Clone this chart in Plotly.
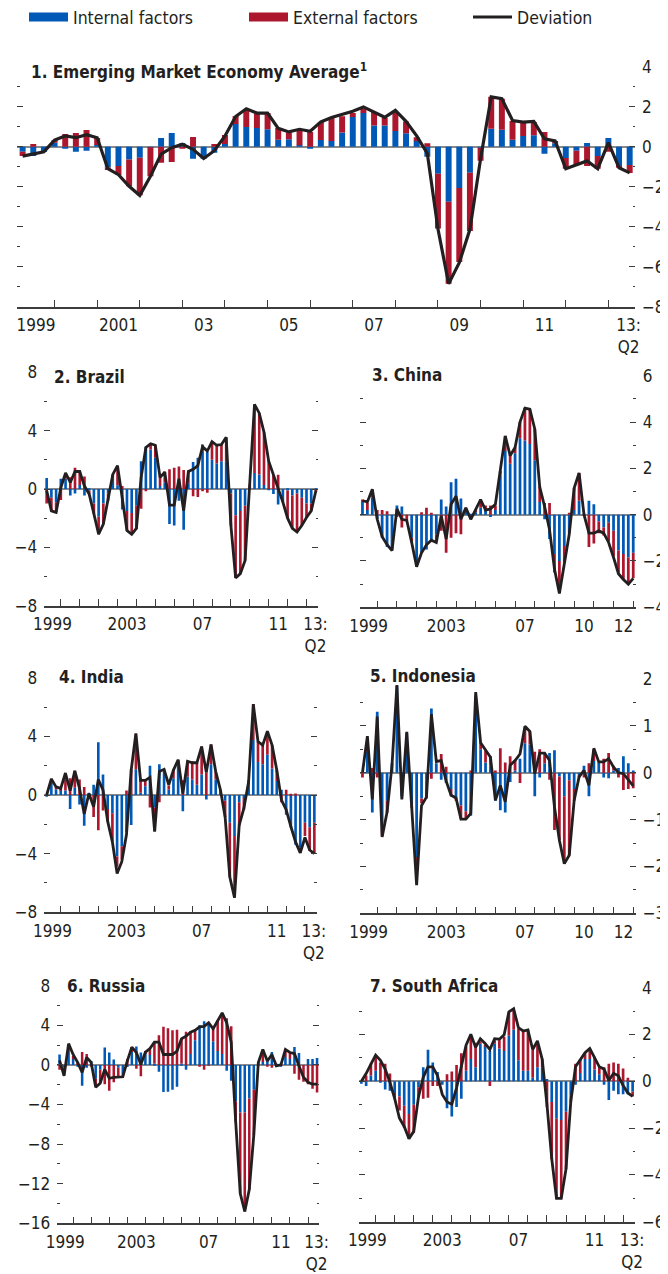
import plotly.graph_objects as go

# The page places the figure 8 px in from the window's top-left corner,
# so the figure is sized and laid out in window pixels minus that offset.
OFF = 8
W, H = 668 - OFF, 1274 - OFF
FONT = "DejaVu Sans Condensed, Liberation Sans Narrow, Arial Narrow, sans-serif"
BLUE = "#0059B7"
RED = "#AD172E"
LINE = "#231F20"
AXIS = "#3C3C3C"

# ---------------- data (quarterly, 1999Q1 onward) ----------------
ema_internal = [-0.25, -0.47, -0.27, 0.2, -0.1, -0.25, -0.2, 0.08, -1.04, -0.97,
                -0.64, -0.55, -0.03, 0.44, 0.69, 0.18, -0.6, -0.6, -0.3, 0.13,
                1.14, 0.99, 0.94, 0.87, 0.35, 0.37, 0.07, -0.08, 0.34, 0.29,
                0.71, 1.48, 1.69, 1.06, 1.06, 0.79, 0.67, 0.29, -0.5, -1.35,
                -2.75, -2.07, -1.3, -0.05, 0.9, 0.85, 0.35, 0.54, 0.57, -0.35,
                0.17, -0.56, -0.2, 0.18, -0.46, 0.44, -0.98, -0.91]
ema_external = [-0.22, 0.13, 0.0, 0.13, 0.64, 0.69, 0.84, 0.35, -0.13, -0.45,
                -1.34, -1.88, -1.45, -0.8, -0.76, -0.1, 0.49, 0.0, 0.13, 0.46,
                0.4, 0.89, 0.71, 0.81, 0.59, 0.34, 0.81, 0.74, 0.9, 1.14,
                0.81, 0.2, 0.22, 0.67, 0.37, 0.94, 0.59, 0.18, 0.17, -2.74,
                -4.1, -3.7, -2.92, -0.65, 1.6, 1.55, 0.94, 0.64, 0.66, 0.74,
                0.12, -0.54, -0.72, -0.96, -0.64, -0.25, -0.07, -0.4]
ema_deviation = [-0.47, -0.38, -0.25, 0.33, 0.54, 0.45, 0.6, 0.45, -1.1, -1.4,
                 -1.98, -2.44, -1.48, -0.37, -0.05, 0.12, -0.13, -0.59, -0.2, 0.54,
                 1.51, 1.9, 1.68, 1.68, 0.92, 0.74, 0.87, 0.77, 1.24, 1.46,
                 1.6, 1.77, 1.99, 1.74, 1.47, 1.82, 1.27, 0.54, -0.34, -4.12,
                 -6.85, -5.8, -4.13, -0.6, 2.49, 2.4, 1.31, 1.23, 1.26, 0.39,
                 0.29, -1.1, -0.9, -0.71, -1.1, 0.2, -1.05, -1.31]

brazil_internal = [0.75, -0.6, -0.9, 0.7, 0.7, -0.45, -0.3, 0.27, -0.45, -0.1,
                   -1.0, -1.9, -1.0, -0.3, 0.7, 0.25, -1.4, -1.5, -1.65, -1.15,
                   1.9, 2.9, 2.7, 2.15, 0.2, 0.45, -2.4, -2.5, -0.8, -2.8,
                   0.4, 1.85, 2.15, 3.05, 2.55, 2.0, 1.75, 1.9, 1.9, -0.3,
                   -1.8, -1.5, -1.15, 0.0, 1.1, 1.0, 0.27, -0.05, -0.35, -1.07,
                   -0.9, -0.1, -0.45, -0.3, -0.6, -1.0, -1.0, -0.05]
brazil_external = [-1.0, -0.9, -0.7, -0.75, 0.4, 0.8, 1.45, 1.0, 0.85, -0.25,
                   -0.7, -1.2, -1.4, -0.5, 0.3, 1.35, 0.2, -1.35, -1.45, -1.6,
                   -1.35, -0.15, 0.4, 0.85, 0.7, 0.75, 1.35, 1.45, 1.55, 1.3,
                   0.85, -0.5, -0.55, -0.15, -0.25, 1.25, 1.2, 1.15, 1.65, -2.2,
                   -4.3, -4.3, -3.75, 0.3, 4.7, 4.2, 3.6, 1.9, 0.95, 0.97,
                   0.0, -1.9, -2.3, -2.65, -1.9, -0.95, -0.5, -0.1]
brazil_deviation = [-0.1, -1.5, -1.6, 0.1, 1.1, 0.45, 1.2, 1.2, 0.2, -0.35,
                    -1.7, -3.1, -2.4, -0.8, 1.0, 1.6, -0.6, -2.85, -3.1, -2.7,
                    0.8, 2.85, 3.1, 3.0, 0.8, 1.15, -1.1, -1.1, 0.7, -1.5,
                    1.2, 1.35, 1.6, 2.9, 2.6, 3.25, 3.0, 3.05, 3.55, -2.5,
                    -6.1, -5.8, -4.9, 0.3, 5.8, 5.2, 3.9, 1.9, 1.0, 0.0,
                    -0.9, -2.0, -2.7, -2.95, -2.5, -1.95, -1.5, -0.1]

china_internal = [0.55, 0.2, 0.75, -0.2, -1.0, -1.4, -1.5, 0.4, 0.35, 0.0,
                  -1.0, -2.2, -1.65, -1.5, -1.15, -0.85, 0.65, 0.35, 1.4, 1.55,
                  0.7, 0.15, -0.05, 0.1, 0.3, 0.2, -0.1, 0.2, 1.85, 2.75,
                  2.2, 2.65, 3.3, 3.2, 3.05, 2.35, 0.55, -0.2, -1.05, -1.7,
                  -2.0, -1.35, -0.8, 0.2, 0.6, 0.0, 0.6, 0.45, -0.3, -0.55,
                  -0.35, -0.7, -1.55, -1.7, -1.85, -1.65]
china_external = [0.1, 0.3, 0.3, 0.2, 0.2, 0.15, 0.0, -0.1, -0.55, -0.25,
                  -0.2, -0.05, 0.1, 0.3, 0.07, -0.3, -0.7, -1.65, -1.0, -0.8,
                  -0.85, 0.15, -0.15, 0.1, 0.35, 0.2, 0.4, 0.2, 0.05, 0.65,
                  0.4, 0.25, 0.7, 1.4, 1.5, 1.35, 0.7, 0.5, 0.5, -0.8,
                  -1.35, -0.7, 0.05, 0.95, 1.2, -0.05, -1.4, -1.25, -0.5, -0.35,
                  -0.8, -1.1, -0.95, -1.1, -1.15, -1.1]
china_deviation = [0.6, 0.55, 1.1, -0.2, -0.95, -1.3, -1.55, 0.25, -0.2, -0.25,
                   -1.2, -2.25, -1.65, -1.3, -1.1, -1.2, -0.05, -1.05, 0.45, 0.8,
                   -0.2, 0.3, -0.2, 0.2, 0.65, 0.2, 0.25, 0.45, 1.9, 3.4,
                   2.55, 2.9, 4.0, 4.6, 4.55, 3.7, 1.2, 0.35, -0.65, -2.35,
                   -3.4, -2.05, -0.85, 1.15, 1.8, 0.0, -0.8, -0.8, -0.7, -0.8,
                   -1.2, -1.85, -2.55, -2.8, -3.0, -2.75]

india_internal = [-0.1, 0.9, 0.4, 0.35, 0.3, -0.95, 0.5, -0.65, -2.1, 0.15,
                  0.7, 3.6, 1.4, -0.95, -1.25, -4.2, -3.5, -2.5, -2.05, 1.75,
                  0.15, 0.6, 2.0, -0.85, 2.1, 1.6, 0.35, 1.15, 2.0, -1.1,
                  1.25, 1.05, 0.7, 1.4, -0.3, 2.1, 1.05, 0.3, -0.4, -1.9,
                  -2.8, -0.5, -0.2, 0.9, 3.75, 2.25, 2.1, 2.75, 1.8, 0.95,
                  0.35, -1.35, -2.2, -3.4, -3.6, -1.9, -2.2, -1.9]
india_external = [0.0, 0.2, 0.15, 0.1, 1.1, 1.15, 1.15, 1.05, 0.55, -0.1,
                  -1.5, -2.4, -1.05, -0.85, -1.9, -0.7, -0.9, 0.3, 1.75, 2.4,
                  1.0, 0.4, -0.85, -1.6, -0.5, 0.15, 0.3, 0.6, 0.4, 1.0,
                  1.05, 1.25, 1.5, 1.9, 1.55, 1.35, 0.55, 0.05, -1.1, -3.7,
                  -4.2, -1.6, -0.8, 0.1, 2.45, 1.4, 1.3, 1.6, 1.6, 0.75,
                  -0.5, 0.35, 0.05, 0.1, -0.35, -0.9, -1.6, -2.1]
india_deviation = [0.0, 1.1, 0.55, 0.45, 1.5, 0.3, 1.65, 0.45, -1.3, 0.1,
                   -0.8, 1.05, 0.35, -1.8, -3.2, -5.35, -4.55, -2.7, 1.7, 4.2,
                   1.0, 1.0, 1.2, -2.5, 1.6, 1.75, 0.7, 1.7, 2.4, 0.1,
                   2.3, 2.2, 2.2, 3.3, 1.55, 3.45, 1.6, 0.35, -1.5, -5.6,
                   -7.0, -2.05, -0.9, 0.9, 6.2, 3.65, 3.4, 4.35, 3.4, 1.7,
                   -0.35, -1.0, -2.15, -3.2, -3.95, -2.9, -3.75, -4.0]

indonesia_internal = [0.0, 0.45, -0.85, 1.3, -1.2, -0.6, 0.2, 1.85, -0.5, 0.85,
                      -0.7, -1.8, -0.55, -0.5, 1.37, 0.2, -0.15, -0.22, -0.35, -0.55,
                      -0.7, -0.82, -0.92, 1.55, 0.5, 0.22, 0.15, -0.6, -0.8, -0.85,
                      -0.2, 0.05, 0.3, 0.63, 0.6, -0.5, -0.1, 0.2, 0.42, 0.48,
                      -0.08, -0.5, -0.16, -0.35, -0.05, 0.15, -0.5, 0.25, 0.22, -0.1,
                      -0.12, 0.05, 0.1, 0.35, 0.2, 0.05]
indonesia_external = [-0.1, 0.3, 0.1, -0.1, -0.15, -0.25, 0.0, 0.0, 0.0, 0.0,
                      -0.05, -0.15, -0.1, -0.05, -0.13, 0.0, 0.4, 0.13, -0.15, -0.05,
                      -0.28, -0.15, 0.05, 0.1, 0.15, 0.25, 0.2, 0.05, 0.52, 0.22,
                      0.35, 0.22, -0.22, 0.3, 0.28, 0.45, 0.5, 0.22, -0.15, -1.22,
                      -1.36, -1.45, -1.6, -0.25, -0.05, -0.1, 0.2, 0.25, 0.0, 0.3,
                      0.42, 0.1, -0.1, -0.37, -0.35, -0.33]
indonesia_deviation = [0.0, 0.78, -0.57, 1.2, -1.37, -0.84, 0.16, 1.87, -0.57, 0.87,
                       -0.73, -2.4, -0.7, -0.52, 1.25, 0.24, 0.26, -0.18, -0.48, -0.54,
                       -0.99, -0.99, -0.87, 1.72, 0.64, 0.48, 0.33, -0.59, -0.27, -0.62,
                       0.16, 0.26, 0.4, 0.99, 0.88, -0.02, 0.42, 0.42, 0.26, -0.73,
                       -1.44, -1.94, -1.76, -0.59, -0.09, 0.05, -0.27, 0.52, 0.23, 0.23,
                       0.3, 0.12, 0.0, -0.02, -0.14, -0.28]

russia_internal = [1.05, -0.3, 1.7, 0.6, -0.1, -2.1, -0.3, 0.4, -1.4, -0.5,
                   1.75, 1.25, 0.55, -0.3, -1.0, -0.2, 1.3, 1.85, 1.25, 1.2,
                   1.0, 0.15, -0.7, -2.75, -2.7, -2.5, -2.2, 0.15, -0.5, 1.1,
                   2.5, 4.0, 4.4, 4.3, 2.4, 1.4, 1.1, -0.6, -1.6, -3.7,
                   -4.8, -4.8, -3.4, -2.5, 0.0, 0.3, 0.4, 1.3, 0.1, -0.1,
                   0.8, 0.6, 1.8, 1.2, 0.0, 0.6, 0.6, 0.7]
russia_external = [-0.5, -0.7, 0.3, 0.3, 0.3, 1.3, 1.1, -0.1, -0.7, -1.3,
                   -1.95, -2.6, -1.75, -0.9, -0.2, 0.6, 0.5, -0.4, -1.15, 0.2,
                   0.7, 2.15, 3.0, 3.85, 3.7, 3.5, 3.55, 2.5, 3.35, 2.3,
                   1.0, -0.15, -0.5, -0.05, 1.25, 3.1, 4.1, 4.7, 3.9, -2.1,
                   -8.2, -10.0, -9.2, -4.6, 0.3, 1.2, -0.1, -0.3, -0.2, 0.1,
                   0.8, 0.7, -0.9, -1.5, -1.7, -1.95, -2.4, -2.8]
russia_deviation = [0.45, -1.1, 2.15, 1.05, 0.25, -0.75, 0.75, 0.25, -2.25, -1.85,
                    -0.45, -1.35, -1.25, -1.2, -1.2, 0.4, 1.8, 1.25, 0.05, 1.3,
                    1.65, 2.3, 2.3, 1.05, 1.05, 1.05, 1.4, 2.65, 2.9, 3.3,
                    3.5, 3.85, 3.9, 4.25, 3.65, 4.5, 5.25, 4.25, 2.3, -5.8,
                    -13.0, -14.8, -12.6, -7.1, 0.25, 1.55, 0.4, 1.05, -0.1, 0.0,
                    1.55, 1.25, 1.15, -0.1, -1.25, -1.75, -1.95, -1.95]

safrica_internal = [-0.1, -0.2, 0.25, 0.45, -0.05, -0.35, -0.4, -0.5, -0.65, -1.05,
                    -1.4, -1.0, -0.25, 0.6, 1.35, 0.8, 0.4, -0.15, -1.15, -1.5,
                    -1.1, -0.75, 0.45, 0.95, 0.6, 1.6, 1.5, 1.3, 1.6, 1.4,
                    1.3, 1.95, 2.2, 0.9, 0.45, 0.45, 0.15, 0.6, 0.6, 0.1,
                    -0.88, -1.6, -1.65, -1.3, -0.6, -0.15, 0.35, 0.95, 0.95, 0.5,
                    0.3, -0.15, -0.8, -0.4, -0.55, -0.55, -0.55, -0.45]
safrica_external = [0.0, 0.25, 0.5, 0.65, 0.8, 0.75, 0.33, -0.2, -0.6, -0.95,
                    -1.05, -1.2, -0.4, -0.75, -0.7, -0.2, -0.2, 0.0, 0.3, 0.42,
                    0.7, 1.2, 1.05, 0.9, 1.05, 0.1, 0.05, -0.2, 0.15, 0.35,
                    0.6, 1.0, 0.9, 1.35, 1.7, 1.75, 1.2, 1.1, 0.35, -1.1,
                    -2.45, -3.4, -3.35, -2.45, -0.3, 0.75, 0.6, 0.25, 0.45, 0.55,
                    0.3, 0.6, 0.75, 0.8, 0.75, 0.55, 0.15, -0.2]
safrica_deviation = [0.0, 0.33, 0.73, 1.12, 0.9, 0.52, -0.04, -0.74, -1.58, -1.93,
                     -2.45, -2.14, -0.67, 0.17, 0.62, 0.62, 0.24, -0.56, -0.88, -0.98,
                     -0.28, 0.64, 1.54, 2.01, 1.45, 1.82, 1.62, 1.36, 1.82, 1.8,
                     1.99, 2.97, 3.1, 2.29, 2.15, 2.2, 1.36, 1.73, 0.94, -1.0,
                     -3.3, -5.0, -5.0, -3.75, -0.88, 0.62, 0.94, 1.22, 1.4, 1.03,
                     0.62, 0.52, 0.03, 0.34, 0.24, -0.18, -0.5, -0.64]

# x tick labels (year labels, centred in each year span; quarter index units)
labels_full = ["1999", "2001", "03", "05", "07", "09", "11", "13:<br>Q2"]
labels_full_pos = [1.25, 9, 17, 25, 33, 41, 49, 56.9]
labels_q2 = ["1999", "2003", "07", "11", "13:<br>Q2"]
labels_q2_pos = [1.25, 17, 33, 49, 56.9]
labels_q4 = ["1999", "2003", "07", "10", "12"]
labels_q4_pos = [1.25, 17, 33, 45, 53]
year_boundaries = [3 + 4 * k for k in range(14)]

panels = [
    dict(title="1. Emerging Market Economy Average<sup>1</sup>",
         internal=ema_internal, external=ema_external, deviation=ema_deviation,
         yr=(-8, 4), dtick=2, side="right", box=(17.3, 635, 66.7, 306.7),
         labels=labels_full, lpos=labels_full_pos, title_xy=(28.5, 71), lw=3.2),
    dict(title="2. Brazil", internal=brazil_internal, external=brazil_external,
         deviation=brazil_deviation, yr=(-8, 8), dtick=4, side="left",
         box=(44.3, 318.3, 372.3, 605.7), labels=labels_q2, lpos=labels_q2_pos,
         title_xy=(51.5, 377), lw=2.8),
    dict(title="3. China", internal=china_internal, external=china_external,
         deviation=china_deviation, yr=(-4, 6), dtick=2, side="right",
         box=(360, 635.7, 375.7, 607.3), labels=labels_q4, lpos=labels_q4_pos,
         title_xy=(370.5, 375), lw=2.8),
    dict(title="4. India", internal=india_internal, external=india_external,
         deviation=india_deviation, yr=(-8, 8), dtick=4, side="left",
         box=(44.3, 316.7, 677.7, 912.3), labels=labels_q2, lpos=labels_q2_pos,
         title_xy=(56.5, 677), lw=2.8),
    dict(title="5. Indonesia", internal=indonesia_internal, external=indonesia_external,
         deviation=indonesia_deviation, yr=(-3, 2), dtick=1, side="right",
         box=(360, 635.7, 679, 913.3), labels=labels_q4, lpos=labels_q4_pos,
         title_xy=(368, 676), lw=2.8),
    dict(title="6. Russia", internal=russia_internal, external=russia_external,
         deviation=russia_deviation, yr=(-16, 8), dtick=4, side="left",
         box=(57.3, 319.3, 985.7, 1223.3), labels=labels_q2, lpos=labels_q2_pos,
         title_xy=(65, 986), lw=2.8),
    dict(title="7. South Africa", internal=safrica_internal, external=safrica_external,
         deviation=safrica_deviation, yr=(-6, 4), dtick=2, side="right",
         box=(359, 635, 987.7, 1221.7), labels=labels_q2, lpos=labels_q2_pos,
         title_xy=(368, 986), lw=2.8),
]

fig = go.Figure()
annotations = []

for i, p in enumerate(panels):
    n = len(p["deviation"])
    xs = list(range(n))
    suffix = "" if i == 0 else str(i + 1)
    xa, ya = "x" + suffix, "y" + suffix
    fig.add_trace(go.Bar(x=xs, y=p["internal"], marker=dict(color=BLUE, line=dict(width=0)),
                         width=0.56, name="Internal factors", legendgroup="int",
                         showlegend=False, xaxis=xa, yaxis=ya))
    fig.add_trace(go.Bar(x=xs, y=p["external"], marker=dict(color=RED, line=dict(width=0)),
                         width=0.56, name="External factors", legendgroup="ext",
                         showlegend=False, xaxis=xa, yaxis=ya))
    fig.add_trace(go.Scatter(x=xs, y=p["deviation"], mode="lines",
                             line=dict(color=LINE, width=p["lw"]),
                             name="Deviation", legendgroup="dev",
                             showlegend=False, xaxis=xa, yaxis=ya))

    x0, x1, y0, y1 = [v - OFF for v in p["box"]]
    xdom = [x0 / W, x1 / W]
    ydom = [1 - y1 / H, 1 - y0 / H]
    lo, hi = p["yr"]
    fig.layout["xaxis" + suffix] = dict(
        domain=xdom, anchor=ya, range=[-0.5, n - 0.5], automargin=False,
        tickvals=p["lpos"], ticktext=p["labels"], ticks="",
        showgrid=False, zeroline=False, showline=True, linecolor=AXIS, linewidth=1.6,
        tickfont=dict(family=FONT, size=17, color=LINE), ticklabelstandoff=2,
        minor=dict(tickvals=year_boundaries, ticks="inside", ticklen=7,
                   tickwidth=1.3, tickcolor=AXIS, showgrid=False),
        fixedrange=True,
    )
    fig.layout["yaxis" + suffix] = dict(
        domain=ydom, anchor=xa, range=[lo, hi], side=p["side"], automargin=False,
        tickmode="linear", tick0=0, dtick=p["dtick"],
        ticks="inside", ticklen=6, tickwidth=1.3, tickcolor=AXIS, mirror="ticks",
        showline=False, showgrid=False,
        zeroline=True, zerolinecolor="#8A8A8A", zerolinewidth=1.6,
        tickfont=dict(family=FONT, size=17, color=LINE), ticklabelstandoff=6,
        minor=dict(dtick=p["dtick"] / 2, ticks="inside", ticklen=2.5,
                   tickwidth=1.3, tickcolor=AXIS, showgrid=False),
        fixedrange=True,
    )
    tx, ty = p["title_xy"]
    annotations.append(dict(
        text="<b>" + p["title"] + "</b>", x=(tx - OFF) / W, y=1 - (ty - OFF) / H,
        xref="paper", yref="paper", xanchor="left", yanchor="middle",
        showarrow=False, font=dict(family=FONT, size=17, color=LINE)))

# legend entries (one legend per key item, styled like the reference key)
fig.add_trace(go.Scatter(x=[None], y=[None], mode="lines", name="Internal factors",
                         legendgroup="int", legend="legend",
                         line=dict(color=BLUE, width=9)))
fig.add_trace(go.Scatter(x=[None], y=[None], mode="lines", name="External factors",
                         legendgroup="ext", legend="legend2",
                         line=dict(color=RED, width=9)))
fig.add_trace(go.Scatter(x=[None], y=[None], mode="lines", name="Deviation",
                         legendgroup="dev", legend="legend3",
                         line=dict(color=LINE, width=3)))


def legend_at(px):
    return dict(orientation="h", x=(px - OFF) / W, y=1 - (17 - OFF) / H,
                xanchor="left", yanchor="middle",
                font=dict(family=FONT, size=17.5, color=LINE),
                bgcolor="rgba(0,0,0,0)", borderwidth=0, itemwidth=39)


fig.update_layout(
    template="none",
    width=W, height=H, margin=dict(l=0, r=0, t=0, b=0, autoexpand=False),
    paper_bgcolor="white", plot_bgcolor="rgba(0,0,0,0)",
    barmode="relative", bargap=0.4,
    font=dict(family=FONT, color=LINE),
    showlegend=True,
    legend=legend_at(24), legend2=legend_at(244), legend3=legend_at(468),
    annotations=annotations,
)

fig.write_html("out.html")
